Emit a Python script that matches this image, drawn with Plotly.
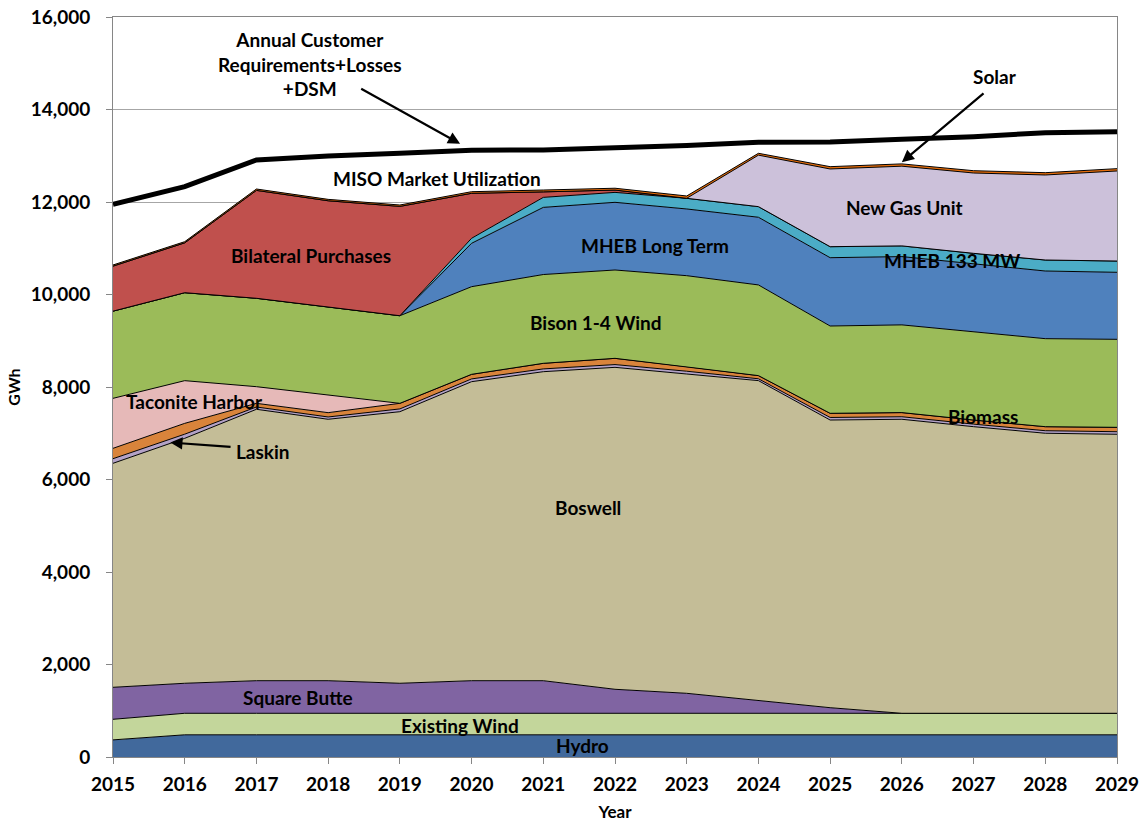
import plotly.graph_objects as go

years = list(range(2015, 2030))

hydro = [370, 480, 480, 480, 480, 480, 480, 480, 480, 480, 480, 480, 480, 480, 480]
existing_wind = [445, 465, 465, 465, 465, 465, 465, 465, 465, 465, 465, 465, 465, 465, 465]
square_butte = [692, 649, 705, 705, 649, 705, 705, 519, 432, 273, 121, 0, 0, 0, 0]
boswell = [4843, 5296, 5868, 5652, 5872, 6465, 6681, 6961, 6904, 6920, 6220, 6357, 6197, 6055, 6033]
laskin = [100, 90, 50, 50, 60, 60, 60, 60, 60, 40, 55, 55, 55, 55, 55]
biomass = [224, 234, 79, 93, 121, 99, 121, 135, 99, 68, 90, 90, 89, 87, 95]
taconite = [1081, 923, 360, 382, 0, 0, 0, 0, 0, 0, 0, 0, 0, 0, 0]
bison = [1885, 1902, 1911, 1910, 1894, 1895, 1920, 1910, 1967, 1961, 1888, 1896, 1910, 1903, 1903]
mheb_lt = [0, 0, 0, 0, 0, 938, 1452, 1463, 1442, 1463, 1477, 1477, 1463, 1463, 1449]
mheb_133 = [0, 0, 0, 0, 0, 108, 216, 215, 231, 230, 238, 231, 231, 238, 244]
bilateral = [973, 1078, 2333, 2290, 2364, 973, 119, 50, 0, 0, 0, 0, 0, 0, 0]
new_gas = [0, 0, 0, 0, 0, 0, 0, 0, 0, 1113, 1680, 1723, 1737, 1838, 1947]
solar = [25, 25, 30, 30, 30, 35, 40, 40, 50, 40, 50, 50, 50, 50, 50]
requirements = [11950, 12331, 12908, 12995, 13052, 13120, 13124, 13170, 13220, 13290, 13300, 13355, 13412, 13499, 13521]

y_ticks = [0, 2000, 4000, 6000, 8000, 10000, 12000, 14000, 16000]

layers = [
    ("Hydro", hydro, "#41699C"),
    ("Existing Wind", existing_wind, "#C3D69B"),
    ("Square Butte", square_butte, "#8064A2"),
    ("Boswell", boswell, "#C4BD97"),
    ("Laskin", laskin, "#B3A2C7"),
    ("Biomass", biomass, "#D9843B"),
    ("Taconite Harbor", taconite, "#E6B9B8"),
    ("Bison 1-4 Wind", bison, "#9BBB59"),
    ("MHEB Long Term", mheb_lt, "#4F81BD"),
    ("MHEB 133 MW", mheb_133, "#4BACC6"),
    ("Bilateral Purchases", bilateral, "#C0504D"),
    ("New Gas Unit", new_gas, "#CCC1DA"),
    ("Solar", solar, "#E46C0A"),
]

fig = go.Figure()
for name, vals, col in layers:
    fig.add_trace(go.Scatter(
        x=years, y=vals, name=name, stackgroup="one", mode="lines",
        line=dict(color="black", width=1), fillcolor=col,
    ))

fig.add_trace(go.Scatter(
    x=years, y=requirements, name="Annual Customer Requirements+Losses+DSM",
    mode="lines", line=dict(color="black", width=5),
))

FONT = "Lato"
lab = dict(family=FONT, size=19, color="black", weight="bold")
tickf = dict(family=FONT, size=19, color="black", weight="bold")

texts = [
    ("Annual Customer<br>Requirements+Losses<br>+DSM", 2017.75, 14984),
    ("Solar", 2027.3, 14703),
    ("MISO Market Utilization", 2019.52, 12519),
    ("Bilateral Purchases", 2017.76, 10854),
    ("MHEB Long Term", 2022.56, 11070),
    ("New Gas Unit", 2026.04, 11892),
    ("MHEB 133 MW", 2026.70, 10746),
    ("Bison 1-4 Wind", 2021.74, 9405),
    ("Taconite Harbor", 2016.14, 7697),
    ("Biomass", 2027.13, 7373),
    ("Laskin", 2017.09, 6595),
    ("Boswell", 2021.62, 5405),
    ("Square Butte", 2017.58, 1297),
    ("Existing Wind", 2019.84, 692),
    ("Hydro", 2021.55, 238),
]
for t, x, y in texts:
    fig.add_annotation(x=x, y=y, text=t, showarrow=False, font=lab,
                       xref="x", yref="y", align="center")

arrows = [
    (2019.84, 13260, 2018.44, 14465),
    (2026.0, 12860, 2027.16, 14378),
    (2015.8, 6800, 2016.66, 6703),
]
for x, y, ax, ay in arrows:
    fig.add_annotation(x=x, y=y, ax=ax, ay=ay, xref="x", yref="y",
                       axref="x", ayref="y", text="", showarrow=True,
                       arrowhead=2, arrowsize=1.1, arrowwidth=2.2,
                       arrowcolor="black")

fig.update_layout(
    width=1142, height=825,
    margin=dict(l=113, r=25, t=17, b=68, autoexpand=False),
    paper_bgcolor="white", plot_bgcolor="white",
    showlegend=False,
    font=dict(family=FONT, size=16, color="black"),
)
fig.update_xaxes(
    range=[2015, 2029], tickvals=years, ticktext=[str(y) for y in years],
    automargin=False,
    showgrid=False, showline=True, linecolor="#868686", linewidth=1, mirror=True,
    ticks="outside", ticklen=6, tickcolor="#868686", ticklabelstandoff=4,
    tickfont=tickf,
    title=dict(text="Year", font=dict(family=FONT, size=17, color="black", weight="bold"), standoff=12),
)
fig.update_yaxes(
    range=[0, 16000], tickvals=y_ticks, tickformat=",",
    automargin=False,
    showgrid=True, gridcolor="#A6A6A6", gridwidth=1,
    showline=True, linecolor="#868686", linewidth=1, mirror=True,
    ticks="outside", ticklen=6, tickcolor="#868686", ticklabelstandoff=12,
    tickfont=tickf,
    title=dict(text="GWh", font=dict(family=FONT, size=16, color="black", weight="bold"), standoff=6),
)

fig.write_html("out.html", config={"displayModeBar": False},
               post_script="document.body.style.margin='0px';")
